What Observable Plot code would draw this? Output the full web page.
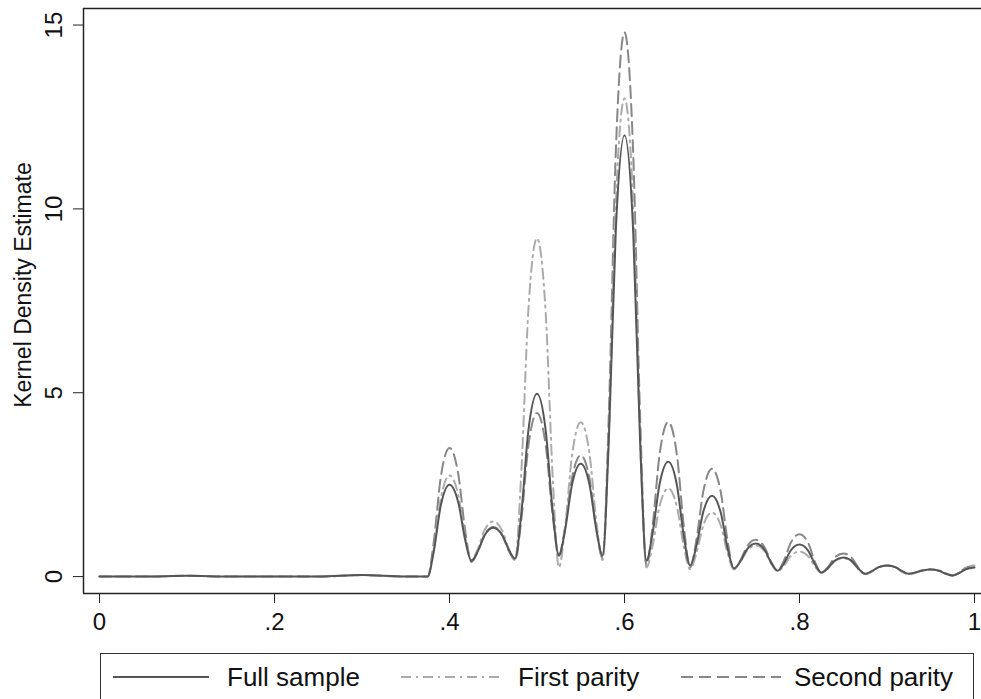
<!DOCTYPE html>
<html><head><meta charset="utf-8">
<script src="https://cdn.jsdelivr.net/npm/d3@7"></script>
<script src="https://cdn.jsdelivr.net/npm/@observablehq/plot@0.6"></script>
<style>
body{margin:0;background:#fff;font-family:"Liberation Sans",Arial,sans-serif;}
#wrap{position:relative;width:981px;height:699px;overflow:hidden;background:#fff}
#legend{position:absolute;left:100px;top:653px;width:874px;height:70px;border:1.5px solid #333;box-sizing:border-box;background:#fff}
#legend svg{position:absolute;left:0;top:0}
</style></head><body><div id="wrap"><div id="chart"></div><div id="legend"></div></div>
<script>
const seriesNames = ["Full sample", "First parity", "Second parity"];
const xTicks = [0, 0.2, 0.4, 0.6, 0.8, 1];
const xTickLabels = ["0", ".2", ".4", ".6", ".8", "1"];
const yTicks = [0, 5, 10, 15];
const yLabel = "Kernel Density Estimate";

const xGrid = [0,0.05,0.1,0.15,0.2,0.25,0.3,0.35,0.375,
0.382,0.39,0.4,0.41,0.418,0.425,
0.432,0.44,0.45,0.46,0.468,0.475,
0.482,0.49,0.5,0.51,0.518,0.525,
0.532,0.54,0.55,0.56,0.568,0.575,
0.582,0.59,0.6,0.61,0.618,0.625,
0.632,0.64,0.65,0.66,0.668,0.675,
0.682,0.69,0.7,0.71,0.718,0.725,
0.732,0.74,0.75,0.76,0.768,0.775,
0.782,0.79,0.8,0.81,0.818,0.825,
0.832,0.84,0.85,0.86,0.868,0.875,
0.882,0.89,0.9,0.91,0.918,0.925,
0.932,0.94,0.95,0.96,0.968,0.975,
0.982,0.99,1.0];

const fullSample = [0,0,0.02,0,0,0,0.04,0,0,
0.68,1.93,2.5,2.02,0.99,0.43,
0.67,1.12,1.33,1.14,0.72,0.49,
1.7,3.94,4.97,3.96,1.76,0.57,
1.25,2.5,3.07,2.5,1.25,0.57,
3.66,9.37,12,9.34,3.55,0.43,
1.16,2.5,3.12,2.47,1.06,0.3,
0.81,1.76,2.2,1.74,0.75,0.22,
0.4,0.74,0.9,0.73,0.36,0.16,
0.35,0.71,0.87,0.70,0.32,0.11,
0.22,0.43,0.52,0.42,0.2,0.08,
0.14,0.25,0.3,0.25,0.14,0.08,
0.11,0.16,0.19,0.15,0.07,0.03,
0.09,0.2,0.25];

const firstParity = [0,0,0.02,0,0,0,0.04,0,0,
0.74,2.12,2.75,2.22,1.07,0.45,
0.73,1.26,1.5,1.26,0.73,0.45,
2.81,7.19,9.2,7.14,2.67,0.25,
1.32,3.29,4.2,3.34,1.46,0.45,
3.84,10.11,13,10.07,3.69,0.25,
0.83,1.91,2.4,1.89,0.79,0.2,
0.62,1.39,1.74,1.39,0.62,0.2,
0.38,0.7,0.85,0.69,0.34,0.15,
0.29,0.56,0.68,0.55,0.26,0.1,
0.21,0.41,0.5,0.4,0.19,0.07,
0.13,0.25,0.3,0.25,0.13,0.07,
0.1,0.17,0.2,0.16,0.08,0.03,
0.1,0.24,0.3];

const secondParity = [0,0,0.02,0,0,0,0.04,0,0,
0.95,2.7,3.5,2.79,1.24,0.4,
0.66,1.13,1.35,1.14,0.69,0.45,
1.53,3.53,4.45,3.56,1.64,0.6,
1.33,2.68,3.3,2.66,1.26,0.5,
4.36,11.51,14.8,11.47,4.22,0.3,
1.35,3.3,4.2,3.29,1.32,0.25,
0.97,2.31,2.93,2.3,0.94,0.2,
0.42,0.82,1.0,0.8,0.38,0.15,
0.42,0.92,1.15,0.91,0.38,0.1,
0.24,0.51,0.63,0.5,0.22,0.07,
0.13,0.25,0.3,0.25,0.12,0.06,
0.1,0.17,0.2,0.16,0.08,0.03,
0.1,0.24,0.3];

const styles = [
  {stroke: "#555555", dash: null, width: 2},
  {stroke: "#ababab", dash: "10,5,2,5", width: 2},
  {stroke: "#878787", dash: "12,6", width: 2}
];
const seriesValues = [fullSample, firstParity, secondParity];
const series = seriesNames.map((name, k) => xGrid.map((x, i) => ({x, y: seriesValues[k][i], s: name})));

const xDom = [-0.0183, 1.008];
const yDom = [-0.46, 15.45];
const font = "Liberation Sans, Arial, Helvetica, sans-serif";

const chart = Plot.plot({
  width: 981, height: 650,
  marginLeft: 83, marginRight: 0, marginTop: 8, marginBottom: 57,
  x: {domain: xDom, label: null},
  y: {domain: yDom, label: null},
  style: {fontFamily: font, fontSize: "24px", color: "#111", background: "#fff"},
  marks: [
    ...[2, 1, 0].map(k => Plot.line(series[k], {
      x: "x", y: "y", curve: "monotone-x",
      stroke: styles[k].stroke, strokeWidth: styles[k].width,
      strokeDasharray: styles[k].dash
    })),
    Plot.ruleY([yDom[1]], {stroke: "#222", strokeWidth: 1.5}),
    Plot.ruleY([yDom[0]], {stroke: "#222", strokeWidth: 1.5}),
    Plot.ruleX([xDom[0]], {stroke: "#222", strokeWidth: 1.5}),
    Plot.axisX(xTicks, {tickSize: 10, tickPadding: 9, stroke: "#222", fontSize: 24,
      tickFormat: d => xTickLabels[xTicks.indexOf(d)]}),
    Plot.axisY(yTicks, {tickSize: 10, stroke: "#222", tickFormat: () => ""}),
    Plot.text(yTicks, {y: d => d, text: d => String(d), frameAnchor: "left", dx: -29,
      rotate: -90, textAnchor: "middle", lineAnchor: "middle", fontSize: 24, fill: "#111"}),
    Plot.text([yLabel], {text: d => d, frameAnchor: "left", dx: -60, dy: -16,
      rotate: -90, textAnchor: "middle", lineAnchor: "middle", fontSize: 23, fill: "#111"})
  ]
});
document.getElementById("chart").appendChild(chart);

// legend below the chart
const legendPos = [{x1: 12, x2: 108, tx: 126}, {x1: 300, x2: 400, tx: 417}, {x1: 580, x2: 680, tx: 693}];
const ns = "http://www.w3.org/2000/svg";
const lsvg = document.createElementNS(ns, "svg");
lsvg.setAttribute("width", 872); lsvg.setAttribute("height", 68);
seriesNames.forEach((name, k) => {
  const p = legendPos[k];
  const ln = document.createElementNS(ns, "line");
  ln.setAttribute("x1", p.x1); ln.setAttribute("x2", p.x2);
  ln.setAttribute("y1", 23); ln.setAttribute("y2", 23);
  ln.setAttribute("stroke", styles[k].stroke);
  ln.setAttribute("stroke-width", styles[k].width);
  if (styles[k].dash) ln.setAttribute("stroke-dasharray", styles[k].dash);
  lsvg.appendChild(ln);
  const t = document.createElementNS(ns, "text");
  t.setAttribute("x", p.tx); t.setAttribute("y", 32);
  t.setAttribute("font-family", font); t.setAttribute("font-size", 26);
  t.setAttribute("fill", "#111");
  t.textContent = name;
  lsvg.appendChild(t);
});
document.getElementById("legend").appendChild(lsvg);
</script></body></html>
